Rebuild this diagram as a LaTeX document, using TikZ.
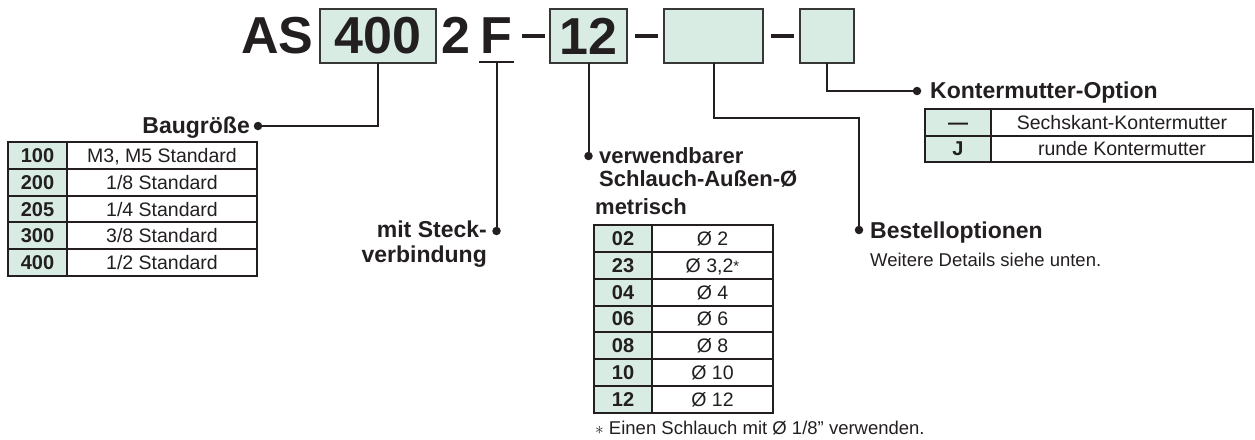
\documentclass[tikz,border=0pt]{standalone}
\usepackage{fontspec}
\setmainfont{Liberation Sans}[Ligatures=ResetAll]
\usetikzlibrary{positioning}
\definecolor{ink}{RGB}{35,31,32}
\definecolor{mint}{RGB}{216,236,228}
\definecolor{boxline}{RGB}{55,55,55}
\tikzset{
  codebox/.style={draw=boxline, fill=mint, line width=2pt, inner sep=0pt, outer sep=0pt, minimum height=54pt, text=ink, font=\fontsize{52}{52}\selectfont\bfseries},
  codetxt/.style={inner sep=0pt, text=ink, font=\fontsize{52}{52}\selectfont\bfseries},
  dashbar/.style={fill=ink, inner sep=0pt, minimum width=23pt, minimum height=3.5pt},
  conn/.style={draw=ink, line width=2pt},
  joint/.style={circle, fill=ink, inner sep=0pt, minimum size=8.5pt},
  headlbl/.style={inner sep=0pt, text=ink, font=\fontsize{23}{25}\selectfont\bfseries},
  notelbl/.style={inner sep=0pt, text=ink, font=\fontsize{18.5}{20}\selectfont},
  keycell/.style={draw=ink, fill=mint, line width=2pt, inner sep=0pt, outer sep=0pt, anchor=north west, minimum height=26.8pt, text height=14pt, text depth=0pt, text=ink, font=\fontsize{20}{20}\selectfont\bfseries},
  valcell/.style={keycell, fill=white, anchor=west, font=\fontsize{19.5}{20}\selectfont}
}
\newcommand{\starmark}{\raisebox{1pt}{\fontsize{15}{15}\selectfont *}}
\begin{document}
\begin{tikzpicture}[x=1pt, y=-1pt]
\useasboundingbox (0,0) rectangle (1255,439);

% type code
\node[codetxt, anchor=base west] (as) at (241,53) {AS};
\node[codebox, minimum width=116pt] (b400) at (378,36) {400};
\node[codetxt, anchor=base west] (two) at (441,53) {2};
\node[codetxt, anchor=base west] (ff) at (480,53) {F};
\node[fill=ink, inner sep=0pt, minimum width=35pt, minimum height=2pt] (fu) at (496.5,62) {};
\node[dashbar] (d1) at (533.5,36) {};
\node[codebox, minimum width=77pt] (b12) at (588.5,36) {12};
\node[dashbar] (d2) at (646,36) {};
\node[codebox, minimum width=99pt] (be1) at (713.5,36) {};
\node[dashbar] (d3) at (782.5,36) {};
\node[codebox, minimum width=54pt] (be2) at (827,36) {};

% leader lines
\node[joint] (jsz) at (258,126) {};
\node[joint] (jst) at (496.5,231) {};
\node[joint] (jsl) at (588.5,156) {};
\node[joint] (jbo) at (859,230) {};
\node[joint] (jkm) at (917,91) {};
\draw[conn] (b400.south) |- (jsz);
\draw[conn] (fu.south) -- (jst);
\draw[conn] (b12.south) -- (jsl);
\draw[conn] (be1.south) -- ++(0,55) -| (jbo);
\draw[conn] (be2.south) |- (jkm);

% labels
\node[headlbl, anchor=base east] (lsz) at (250,133) {Baugröße};
\node[headlbl, anchor=north east, align=right] (lst) at (487,221) {mit Steck-\\verbindung};
\node[headlbl, anchor=north west, align=left, font=\fontsize{22}{23}\selectfont\bfseries] (lsl) at (599,147) {verwendbarer\\Schlauch-Außen-Ø};
\node[headlbl, anchor=base west, font=\fontsize{22}{23}\selectfont\bfseries] (lme) at (595,214) {metrisch};
\node[headlbl, anchor=base west] (lbo) at (870,238) {Bestelloptionen};
\node[notelbl, anchor=base west] (nbo) at (870,266) {Weitere Details siehe unten.};
\node[headlbl, anchor=base west] (lkm) at (930,98) {Kontermutter-Option};
\node[notelbl, anchor=base west] (nsl) at (595,434) {$\ast$ Einen Schlauch mit Ø 1/8" verwenden.};

% tables
\foreach \k/\v [count=\i] in {100/{M3, M5 Standard},200/{1/8 Standard},205/{1/4 Standard},300/{3/8 Standard},400/{1/2 Standard}}{
  \node[keycell, minimum width=59pt] (szk\i) at (8,{142+26.8*(\i-1)}) {\k};
  \node[valcell, minimum width=190pt] (szv\i) at (szk\i.east) {\v};
}
\foreach \k/\v [count=\i] in {02/{Ø 2},23/{Ø 3,2\starmark},04/{Ø 4},06/{Ø 6},08/{Ø 8},10/{Ø 10},12/{Ø 12}}{
  \node[keycell, minimum width=58pt] (mk\i) at (594,{225+26.86*(\i-1)}) {\k};
  \node[valcell, minimum width=121pt] (mv\i) at (mk\i.east) {\v};
}
\foreach \k/\v [count=\i] in {—/Sechskant-Kontermutter,J/runde Kontermutter}{
  \node[keycell, minimum width=66pt] (kk\i) at (925,{109+26.5*(\i-1)}) {\k};
  \node[valcell, minimum width=262pt] (kv\i) at (kk\i.east) {\v};
}
\end{tikzpicture}
\end{document}
